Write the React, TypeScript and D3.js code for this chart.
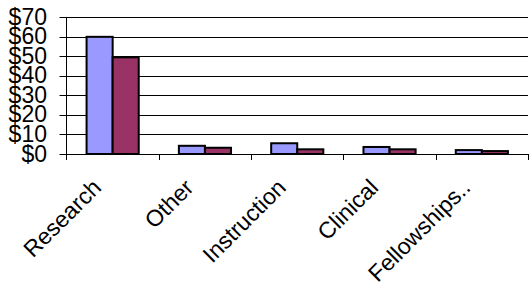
import React from "react";
import * as d3 from "d3";

const categories = ["Research", "Other", "Instruction", "Clinical", "Fellowships.."];
const seriesA = [60, 4.2, 5.5, 3.6, 2];
const seriesB = [49.5, 3.2, 2.4, 2.4, 1.5];
const yTicks = [0, 10, 20, 30, 40, 50, 60, 70];

const W = 530;
const H = 294;
const margin = { top: 17.3, right: 2, bottom: 140, left: 66.5 };

export default function App() {
  const plotBottom = 154;

  const x = d3
    .scaleBand()
    .domain(categories)
    .range([margin.left, W - margin.right])
    .paddingInner(0)
    .paddingOuter(0);

  const x1 = d3
    .scaleBand()
    .domain(["a", "b"])
    .range([0, x.bandwidth()])
    .paddingInner(0)
    .paddingOuter(0.77);

  const y = d3.scaleLinear().domain([0, 70]).range([plotBottom, margin.top]);

  const font = "'Liberation Sans', Arial, sans-serif";
  const right = W - margin.right;

  return (
    <svg
      width={W}
      height={H}
      style={{ position: "absolute", left: 0, top: 0, background: "#fff" }}
    >
      {/* grid + y ticks */}
      {yTicks.map((t) => (
        <g key={t}>
          <line
            x1={margin.left - 7}
            x2={right}
            y1={Math.round(y(t)) + 0.5}
            y2={Math.round(y(t)) + 0.5}
            stroke="#000"
            strokeWidth={1}
          />
          <text
            x={47}
            y={y(t) + 7.5}
            textAnchor="end"
            fontFamily={font}
            fontSize={23}
            fill="#000"
          >
            ${t}
          </text>
        </g>
      ))}

      {/* bars */}
      {categories.map((c, i) => (
        <g key={c} transform={`translate(${x(c)},0)`}>
          <rect
            x={x1("a")}
            y={y(seriesA[i])}
            width={x1.bandwidth()}
            height={plotBottom - y(seriesA[i])}
            fill="#9999FF"
            stroke="#000"
            strokeWidth={2}
          />
          <rect
            x={x1("b")}
            y={y(seriesB[i])}
            width={x1.bandwidth()}
            height={plotBottom - y(seriesB[i])}
            fill="#993366"
            stroke="#000"
            strokeWidth={2}
          />
        </g>
      ))}

      {/* axes */}
      <line
        x1={margin.left}
        x2={margin.left}
        y1={margin.top}
        y2={plotBottom + 6}
        stroke="#000"
        strokeWidth={1}
      />
      {categories.map((c) => (
        <line
          key={c}
          x1={Math.round((x(c) as number) + x.bandwidth()) + 0.5}
          x2={Math.round((x(c) as number) + x.bandwidth()) + 0.5}
          y1={plotBottom}
          y2={plotBottom + 6}
          stroke="#000"
          strokeWidth={1}
        />
      ))}

      {/* x labels */}
      {categories.map((c) => {
        const cx = (x(c) as number) + x.bandwidth() / 2;
        return (
          <text
            key={c}
            transform={`translate(${cx - 10},189) rotate(-45)`}
            textAnchor="end"
            fontFamily={font}
            fontSize={23}
            fill="#000"
          >
            {c}
          </text>
        );
      })}
    </svg>
  );
}
